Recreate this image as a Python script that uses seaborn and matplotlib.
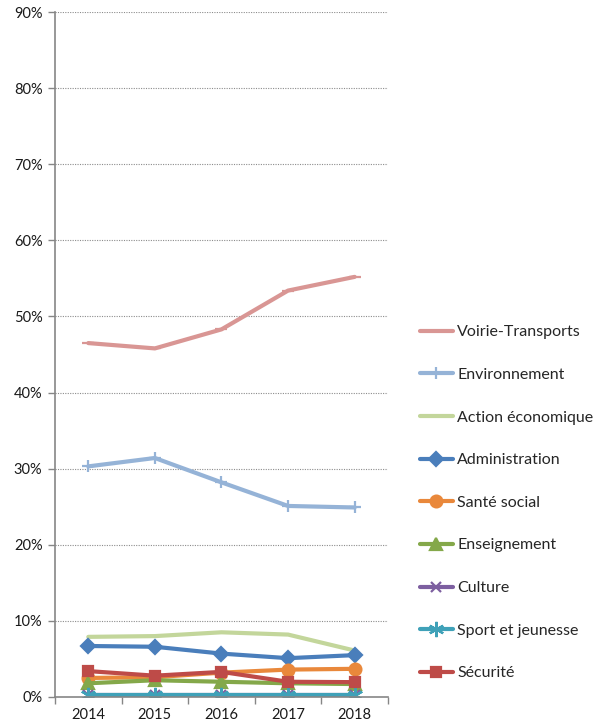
import matplotlib
matplotlib.use("Agg")
import matplotlib.pyplot as plt
from matplotlib.ticker import FixedLocator, PercentFormatter
import seaborn as sns
import pandas as pd

years = [2014, 2015, 2016, 2017, 2018]

voirie_transports = [46.5, 45.8, 48.3, 53.4, 55.2]
environnement = [30.3, 31.4, 28.2, 25.1, 24.9]
action_economique = [7.9, 8.0, 8.5, 8.2, 6.1]
administration = [6.7, 6.6, 5.7, 5.1, 5.5]
sante_social = [2.5, 2.6, 3.2, 3.6, 3.7]
enseignement = [1.8, 2.2, 2.0, 1.8, 1.7]
culture = [0.2, 0.2, 0.2, 0.2, 0.2]
sport_jeunesse = [0.3, 0.3, 0.3, 0.3, 0.3]
securite = [3.4, 2.8, 3.3, 2.0, 1.95]

series = [
    ("Voirie-Transports", voirie_transports, "#D99694", "_", 8),
    ("Environnement", environnement, "#95B3D7", "+", 9),
    ("Action économique", action_economique, "#C3D69B", None, 0),
    ("Administration", administration, "#4A7EBB", "D", 7),
    ("Santé social", sante_social, "#E9883B", "o", 8.5),
    ("Enseignement", enseignement, "#84A84A", "^", 8),
    ("Culture", culture, "#7D5FA0", "x", 7),
    ("Sport et jeunesse", sport_jeunesse, "#3FA1B8", (6, 2, 0), 11),
    ("Sécurité", securite, "#BE4B48", "s", 7.5),
]

sns.set_theme(style="white")
plt.rcParams["font.family"] = ["Lato", "DejaVu Sans"]

fig = plt.figure(figsize=(5.99, 7.28), dpi=100)
ax = fig.add_axes([0.0918, 0.0426, 0.5559, 0.9409])

for name, vals, color, marker, ms in series:
    df = pd.DataFrame({"annee": years, "part": vals})
    kw = dict(marker=marker, markersize=ms, markeredgecolor=color,
              markerfacecolor=color, markeredgewidth=1.6) if marker else {}
    sns.lineplot(data=df, x="annee", y="part", color=color, linewidth=3,
                 label=name, ax=ax, **kw)

ax.set_xlim(2013.5, 2018.5)
ax.set_ylim(0, 90)
ax.set_yticks(range(0, 91, 10))
ax.yaxis.set_major_formatter(PercentFormatter(decimals=0))
ax.set_xticks(years)
ax.set_xticklabels([str(y) for y in years])
ax.xaxis.set_minor_locator(FixedLocator([2013.5 + i for i in range(6)]))
ax.set_xlabel("")
ax.set_ylabel("")

for y in range(10, 91, 10):
    ax.axhline(y, color="#8C8C8C", linestyle=(0, (1, 1.2)), linewidth=0.8, zorder=0)

for s in ["top", "right"]:
    ax.spines[s].set_visible(False)
for s in ["left", "bottom"]:
    ax.spines[s].set_color("#868686")
    ax.spines[s].set_linewidth(1.2)

ax.tick_params(axis="y", which="major", direction="out", length=5, width=1,
               color="#868686", labelsize=10.5, pad=4, left=True)
ax.tick_params(axis="x", which="major", length=0, labelsize=10.5, pad=8)
ax.tick_params(axis="x", which="minor", direction="out", length=5, width=1,
               color="#868686", bottom=True)
for lab in ax.get_xticklabels() + ax.get_yticklabels():
    lab.set_color("#1A1A1A")

handles, labels = ax.get_legend_handles_labels()
ax.get_legend().remove()
fig.legend(handles, labels, loc="upper left", bbox_to_anchor=(0.69, 0.562),
           frameon=False, fontsize=11.5, labelspacing=1.78, handlelength=2.06,
           handletextpad=0.3, borderaxespad=0)

fig.savefig("out.png", dpi=100)
